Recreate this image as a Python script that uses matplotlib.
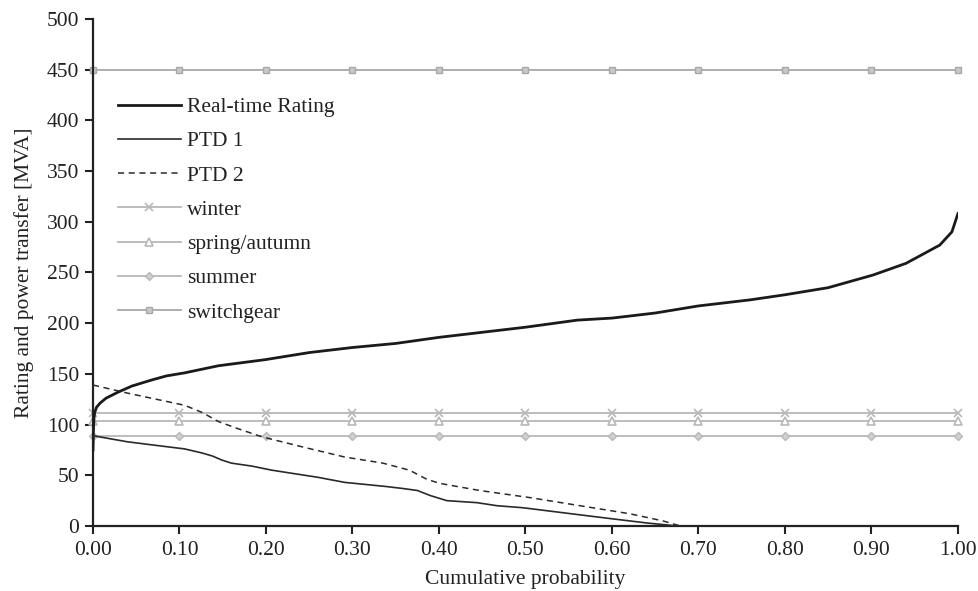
import matplotlib
matplotlib.use("Agg")
import matplotlib.pyplot as plt
import numpy as np
from matplotlib.ticker import FormatStrFormatter

plt.rcParams['font.family'] = ['Liberation Serif', 'DejaVu Serif']

# Real-time rating (cumulative probability vs MVA)
rtr_x = [0.0, 0.0005, 0.001, 0.002, 0.004, 0.008, 0.015, 0.029, 0.045, 0.068, 0.085, 0.106,
         0.145, 0.199, 0.25, 0.30, 0.35, 0.40, 0.45, 0.50, 0.56, 0.60, 0.65, 0.70, 0.76,
         0.80, 0.85, 0.902, 0.94, 0.979, 0.993, 1.0]
rtr_y = [75, 95, 105, 112, 117, 121, 126, 132, 138, 144, 148, 151,
         158, 164, 171, 176, 180, 186, 191, 196, 203, 205, 210, 217, 223,
         228, 235, 247.5, 259, 277, 290, 308]

# Power transfer distribution 1
ptd1_x = [0.0, 0.02, 0.040, 0.068, 0.106, 0.126, 0.138, 0.149, 0.16, 0.184, 0.207, 0.26,
          0.291, 0.338, 0.358, 0.375, 0.39, 0.409, 0.444, 0.467, 0.497, 0.563, 0.601,
          0.64, 0.664, 0.675]
ptd1_y = [89, 86, 83, 80, 76, 72, 69, 65, 62, 59, 55, 48,
          43, 39, 37, 35, 30, 25, 23, 20, 18, 11, 7,
          3, 1, 0]

# Power transfer distribution 2
ptd2_x = [0.0, 0.04, 0.095, 0.106, 0.126, 0.145, 0.164, 0.195, 0.242, 0.291, 0.335,
          0.366, 0.386, 0.401, 0.447, 0.505, 0.563, 0.621, 0.659, 0.679]
ptd2_y = [139, 131, 121, 119, 112, 103, 97, 88, 78, 68, 62,
          55, 46, 42, 35, 28, 20, 12, 5, 0]

# Static seasonal ratings and switchgear limit
marker_x = [0.0, 0.1, 0.2, 0.3, 0.4, 0.5, 0.6, 0.7, 0.8, 0.9, 1.0]
winter = 111
spring_autumn = 104
summer = 89
switchgear = 450

x_ticks = [0.0, 0.1, 0.2, 0.3, 0.4, 0.5, 0.6, 0.7, 0.8, 0.9, 1.0]
y_ticks = [0, 50, 100, 150, 200, 250, 300, 350, 400, 450, 500]

fs = 15.5

fig = plt.figure(figsize=(9.79, 5.91), dpi=100)
ax = fig.add_axes([0.095, 0.110, 0.8835, 0.858])

ax.plot(rtr_x, rtr_y, color='#1a1a1a', lw=2.0, label='Real-time Rating', zorder=5)
ax.plot(ptd1_x, ptd1_y, color='#2a2a2a', lw=1.2, label='PTD 1', zorder=5)
ax.plot(ptd2_x, ptd2_y, color='#2a2a2a', lw=1.1, ls=(0, (4, 3)), label='PTD 2', zorder=5)

grey = '#b8b8b8'
ax.plot(marker_x, [winter] * len(marker_x), color=grey, lw=1.3, marker='x', ms=6,
        mew=1.2, label='winter', clip_on=False)
ax.plot(marker_x, [spring_autumn] * len(marker_x), color=grey, lw=1.3, marker='^', ms=6,
        mfc='white', mec=grey, mew=1.2, label='spring/autumn', clip_on=False)
ax.plot(marker_x, [summer] * len(marker_x), color=grey, lw=1.3, marker='D', ms=4.5,
        mfc='#d0d0d0', mec=grey, mew=1.0, label='summer', clip_on=False)
ax.plot(marker_x, [switchgear] * len(marker_x), color='#a8a8a8', lw=1.3, marker='s', ms=4.5,
        mfc='#c8c8c8', mec='#a8a8a8', mew=1.0, label='switchgear', clip_on=False)

ax.set_xlim(0, 1.0)
ax.set_ylim(0, 500)
ax.set_xticks(x_ticks)
ax.set_yticks(y_ticks)
ax.xaxis.set_major_formatter(FormatStrFormatter('%.2f'))

for s in ['top', 'right']:
    ax.spines[s].set_visible(False)
for s in ['left', 'bottom']:
    ax.spines[s].set_linewidth(1.6)
    ax.spines[s].set_color('#222222')
ax.tick_params(direction='out', length=6, width=1.5, colors='#222222',
               labelsize=fs, labelcolor='#222222')
ax.tick_params(axis='x', pad=5)
ax.tick_params(axis='y', pad=4)

ax.set_xlabel('Cumulative probability', fontsize=fs, color='#222222', labelpad=7)
ax.set_ylabel('Rating and power transfer [MVA]', fontsize=fs, color='#222222', labelpad=9)

leg = ax.legend(loc='upper left', bbox_to_anchor=(0.029, 0.846), frameon=False,
                fontsize=fs, handlelength=2.9, handletextpad=0.3, labelspacing=0.66,
                borderaxespad=0.0, borderpad=0.0)
for t in leg.get_texts():
    t.set_color('#222222')

fig.savefig('out.png', dpi=100)
